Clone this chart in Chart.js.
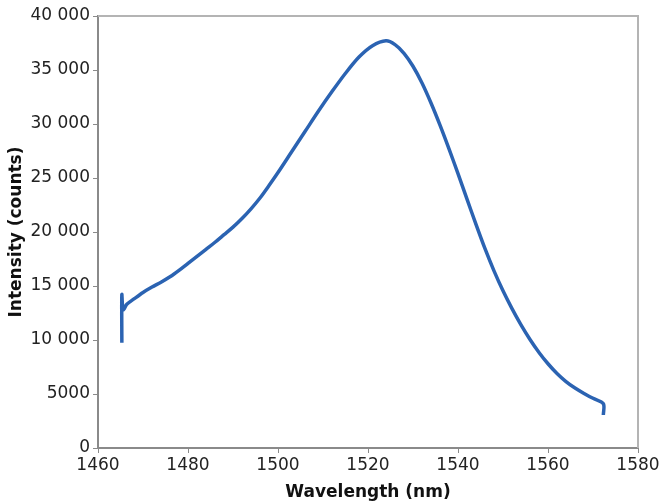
<!DOCTYPE html>
<html>
<head>
<meta charset="utf-8">
<script src="https://cdn.jsdelivr.net/npm/chart.js@4"></script>
<style>
  html, body { margin: 0; padding: 0; background: #fff; }
  #wrap { width: 666px; height: 501px; }
</style>
</head>
<body>
<div id="wrap"><canvas id="spectrum"></canvas></div>
<script>
// wavelength (nm) and intensity (counts)
const wavelength = [1465.3, 1465.3, 1465.6, 1466.4, 1468, 1470, 1472, 1474, 1476, 1478, 1480, 1482, 1484, 1486, 1488, 1490, 1492, 1494, 1496, 1498, 1500, 1503, 1506, 1509, 1512, 1515, 1518, 1521, 1524, 1526, 1528, 1530, 1532, 1534, 1536, 1538, 1540, 1542, 1544, 1546, 1548, 1550, 1552, 1554, 1556, 1558, 1560, 1562, 1564, 1566, 1568, 1570, 1572.3, 1572.3];
const intensity = [9750, 14200, 12800, 13300, 13800, 14400, 14900, 15350, 15850, 16450, 17100, 17750, 18400, 19050, 19750, 20450, 21250, 22150, 23150, 24300, 25500, 27400, 29300, 31200, 33000, 34700, 36200, 37250, 37700, 37350, 36550, 35350, 33800, 31950, 29900, 27700, 25400, 23050, 20700, 18450, 16400, 14550, 12900, 11400, 10050, 8850, 7800, 6900, 6150, 5550, 5050, 4600, 4100, 3050];

const xTicks = [1460, 1480, 1500, 1520, 1540, 1560, 1580];
const yTicks = [0, 5000, 10000, 15000, 20000, 25000, 30000, 35000, 40000];

const points = wavelength.map((w, i) => ({ x: w, y: intensity[i] }));

// number format like "40 000" but "5000"
function fmtCount(v) {
    if (v < 10000) return String(v);
    return String(v).replace(/\B(?=(\d{3})+(?!\d))/g, ' ');
}

// light frame on top and right of the plot area
const frame = {
    id: 'frame',
    afterDraw(chart) {
        const { ctx, chartArea: a } = chart;
        ctx.save();
        ctx.strokeStyle = '#b4b4b4';
        ctx.lineWidth = 2;
        ctx.beginPath();
        ctx.moveTo(a.left, a.top);
        ctx.lineTo(a.right, a.top);
        ctx.lineTo(a.right, a.bottom);
        ctx.stroke();
        ctx.restore();
    }
};

new Chart(document.getElementById('spectrum'), {
    type: 'line',
    data: {
        datasets: [{
            data: points,
            borderColor: '#2b63b2',
            borderWidth: 3.5,
            pointRadius: 0,
            tension: 0.3,
            fill: false
        }]
    },
    options: {
        responsive: true,
        maintainAspectRatio: false,
        animation: false,
        layout: { padding: { top: 16, right: 28, left: 0, bottom: 0 } },
        plugins: { legend: { display: false }, tooltip: { enabled: false } },
        scales: {
            x: {
                type: 'linear',
                min: 1460,
                max: 1580,
                afterBuildTicks: s => { s.ticks = xTicks.map(v => ({ value: v })); },
                afterFit: s => { s.height = 53; },
                border: { display: true, color: '#8a8a8a', width: 2 },
                grid: { drawOnChartArea: false, drawTicks: true, tickLength: 5, color: '#8a8a8a' },
                ticks: {
                    color: '#222',
                    padding: 2,
                    maxRotation: 0,
                    font: { family: 'DejaVu Sans', size: 17 },
                    callback: v => String(v)
                },
                title: {
                    display: true,
                    text: 'Wavelength (nm)',
                    color: '#111',
                    padding: { top: 0, bottom: -2 },
                    font: { family: 'DejaVu Sans', size: 17, weight: 'bold' }
                }
            },
            y: {
                min: 0,
                max: 40000,
                afterBuildTicks: s => { s.ticks = yTicks.map(v => ({ value: v })); },
                afterFit: s => { s.width = 98; },
                border: { display: true, color: '#8a8a8a', width: 2 },
                grid: { drawOnChartArea: false, drawTicks: true, tickLength: 5, color: '#8a8a8a' },
                ticks: {
                    color: '#222',
                    padding: 3,
                    font: { family: 'DejaVu Sans', size: 17 },
                    callback: v => fmtCount(v)
                },
                title: {
                    display: true,
                    text: 'Intensity (counts)',
                    color: '#111',
                    padding: { top: 6, bottom: 0 },
                    font: { family: 'DejaVu Sans', size: 17, weight: 'bold' }
                }
            }
        }
    },
    plugins: [frame]
});
</script>
</body>
</html>
